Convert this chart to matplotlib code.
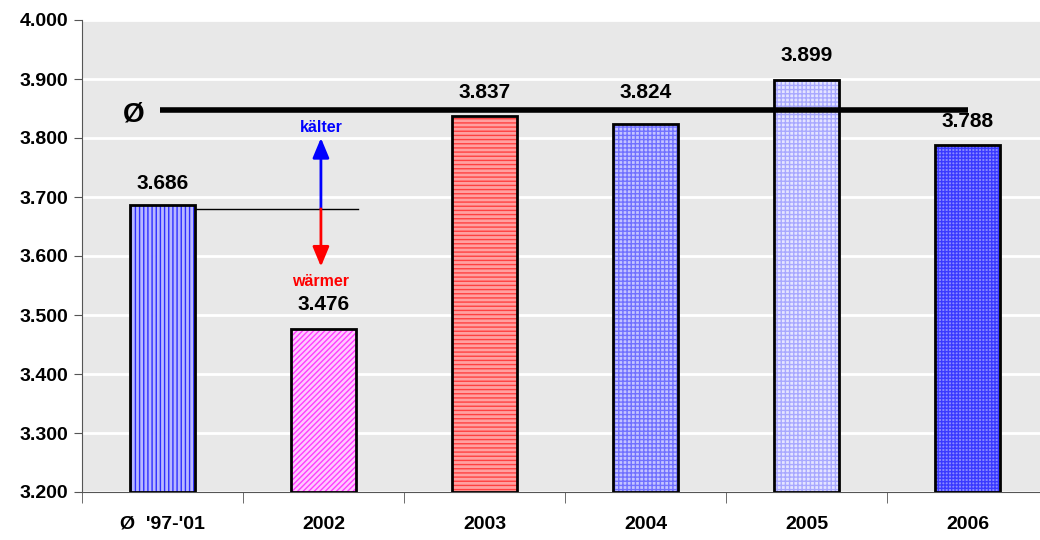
import matplotlib.pyplot as plt
import numpy as np

# Werte je Zeitraum
kategorien = ["Ø  '97-'01", "2002", "2003", "2004", "2005", "2006"]
werte = [3.686, 3.476, 3.837, 3.824, 3.899, 3.788]
wert_texte = ["3.686", "3.476", "3.837", "3.824", "3.899", "3.788"]
# Abstand der Beschriftung über dem Balken
text_abstand = [0.021, 0.026, 0.024, 0.037, 0.024, 0.024]
mittel_linie = 3.848
basis_linie = 3.68
y_ticks = [3.2, 3.3, 3.4, 3.5, 3.6, 3.7, 3.8, 3.9, 4.0]
y_tick_texte = ["3.200", "3.300", "3.400", "3.500", "3.600", "3.700", "3.800", "3.900", "4.000"]

# Füllung und Schraffur je Balken
flaechen = ['#b8b8ff', '#ffc8ff', '#ffa0a0', '#c4c4ff', '#e4e4ff', '#8a8aff']
schraffur = ['||||', '//////', '----', '++++', '++++', '+++++']
schraffur_farben = ['#2e2eff', '#ff3cff', '#ff4040', '#7070ff', '#a8a8ff', '#3a3aff']

plt.rcParams['font.family'] = ['Liberation Sans', 'DejaVu Sans']
plt.rcParams['hatch.linewidth'] = 1.0

fig = plt.figure(figsize=(10.4, 5.4), dpi=100)
ax = fig.add_axes([82 / 1040, 1 - 492 / 540, 966 / 1040, 472 / 540])
ax.set_facecolor('#e8e8e8')

x = np.arange(len(kategorien))
breite = 0.4

for i in range(len(x)):
    ax.bar(x[i], werte[i] - 3.2, bottom=3.2, width=breite, color=flaechen[i],
           hatch=schraffur[i], edgecolor=schraffur_farben[i], linewidth=0, zorder=2)
ax.bar(x, np.array(werte) - 3.2, bottom=3.2, width=breite, facecolor='none',
       edgecolor='black', linewidth=2, zorder=3)

for xi, w, t, d in zip(x, werte, wert_texte, text_abstand):
    ax.text(xi, w + d, t, ha='center', va='bottom', fontsize=15,
            fontweight='bold', zorder=5)

# Mittelwert der Jahre 2003 bis 2006
ax.plot([-0.015, 5.0], [mittel_linie, mittel_linie], color='black', lw=4,
        solid_capstyle='butt', zorder=4)
ax.text(-0.18, mittel_linie - 0.008, 'Ø', ha='center', va='center', fontsize=20,
        fontweight='bold')

# Bezugslinie und Pfeile
ax.plot([0.2, 1.216], [basis_linie, basis_linie], color='black', lw=1, zorder=4)
ax.annotate('', xy=(0.984, 3.80), xytext=(0.984, basis_linie),
            arrowprops=dict(arrowstyle='-|>,head_length=1.2,head_width=0.5',
                            color='#0000ff', lw=2, shrinkA=0, shrinkB=0), zorder=4)
ax.annotate('', xy=(0.984, 3.582), xytext=(0.984, basis_linie),
            arrowprops=dict(arrowstyle='-|>,head_length=1.2,head_width=0.5',
                            color='#ff0000', lw=2, shrinkA=0, shrinkB=0), zorder=4)
ax.text(0.984, 3.818, 'kälter', color='#0000ff', ha='center', va='center',
        fontsize=11.5, fontweight='bold')
ax.text(0.984, 3.557, 'wärmer', color='#ff0000', ha='center', va='center',
        fontsize=11.5, fontweight='bold')

ax.set_xlim(-0.5, 5.5)
ax.set_ylim(3.2, 4.0)
ax.set_yticks(y_ticks)
ax.set_yticklabels(y_tick_texte, fontsize=14, fontweight='bold')
ax.yaxis.grid(True, color='white', lw=2, zorder=1)
ax.set_axisbelow(True)

ax.set_xticks(x)
ax.set_xticklabels(kategorien, fontsize=14, fontweight='bold')
ax.tick_params(axis='x', length=0, pad=17)
ax.set_xticks(np.arange(-0.5, 5.6, 1), minor=True)
ax.tick_params(axis='x', which='minor', length=8, color='#555555')
ax.tick_params(axis='y', length=6, color='#555555', pad=4)

for s in ['top', 'right']:
    ax.spines[s].set_visible(False)
ax.spines['left'].set_color('#555555')
ax.spines['bottom'].set_color('#555555')

fig.savefig('out.png', dpi=100)
